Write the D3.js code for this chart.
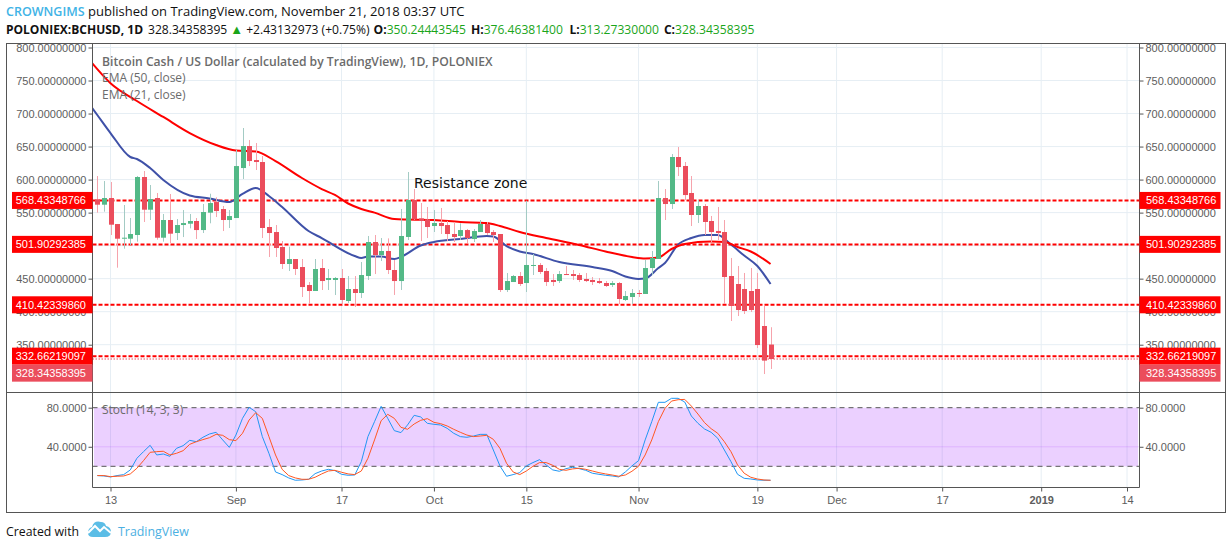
<!DOCTYPE html>
<html><head><meta charset="utf-8">
<script src="https://cdn.jsdelivr.net/npm/d3@7"></script>
<style>html,body{margin:0;padding:0;background:#fff;overflow:hidden}svg{display:block}</style>
</head><body><svg id="c" width="1232" height="549"></svg>
<script>
const startDate = "2018-08-11";
const opens = [570.1,562,572.1,532.7,510.5,510.5,516.1,603.9,554.4,572.1,512,538.8,519.1,531.2,533.2,537.3,523.6,549.9,566,555.4,538.8,
541.8,617.5,650.8,629.6,626.6,528.2,520.6,497.9,472.2,479.7,467.6,440.4,431.3,466.1,448,448,451,416.2,434.3,428.3,454,505.5,485.8,491.9,463.1,446.4,513.1,569.1,541.3,539.8,
529.7,534.3,531.2,517.6,514.6,523.6,510,520.6,532.8,520.6,517.6,432.8,444.9,454,443.4,469.2,470.7,461.6,448,446.4,457,457,455.5,449.5,448,446.4,443.4,440.4,443.4,417.7,422.2,
428.3,426.8,466.1,479.8,572.1,563,634.2,620.6,579.7,546.4,560,537.3,522.2,520.6,454,441.9,434.3,431.3,434.3,378.3,350.24];
const highs = [605.4,597.8,596.3,532.7,561.5,541.8,605.4,613,591.8,579.7,547.9,578.2,540.3,553.9,547.9,541.8,563,578.6,573.1,560,553.9,
644.8,678.1,659.9,655.4,635.7,540.3,531.2,507,498.4,479.7,479.7,444.9,479.7,479.7,464.6,452.5,464.6,454,454,475.2,514.6,516.1,511.5,511,478.2,555.5,611.5,585.7,564.5,558.5,
553.9,557,537.3,535.8,533.8,525.2,525.2,538.8,535.8,523.6,517.6,458.5,455.5,460.1,568,487.3,473.7,466.1,457,461.6,469.2,463.1,458.5,458.5,452.5,451,446.4,446.4,444.9,431.3,434.3,
432.8,478.2,491.9,597.9,585.7,638.7,649.3,626.6,605.4,569.1,563,544.9,558.5,538.8,481.3,469.2,458.6,466.1,458.6,408.6,376.46];
const lows = [549.9,551.4,516.1,466.6,495.4,500.9,506,535.8,538.8,509,506,504,508.5,513,526.2,510,519.1,533.8,543.3,522.1,526.7,
541.8,600.9,620.5,614.5,511.5,482.8,482.8,464.6,461.6,455.5,422.2,411.6,431.3,432.8,432.8,425.2,410.1,413.1,407.1,420.7,448,457,476.7,457,425.3,432.8,508.5,538.8,507,511.5,
520.6,517.6,507,505.5,508.5,504,505.5,520.6,516.1,505.5,429.8,429.8,444.9,438.9,429.8,455.5,457,438.9,438.9,443.4,455.5,448,444.9,444.9,440.4,441.9,437.4,437.4,411.6,416.2,411.6,
422.2,426.8,455.5,479.8,538.8,555.5,605.4,569.1,529.7,534.3,516.1,505.5,508.5,411.6,385.9,393.4,396.5,399.5,345,305.6,313.27];
const closes = [562,572.1,531.7,510.5,512,517.6,603.9,554.4,570.6,512,538.8,518.1,531.2,534.2,537.3,523.6,550.9,564.5,552.4,538.8,544.8,
620.5,650.8,628.1,626.6,526.7,519.1,496.4,472.2,479.7,464.6,437.3,431.3,464.6,446.4,451,451,417.7,434.3,428.3,455.5,505.5,485.8,491.9,463.1,446.4,514.6,569.1,539.8,537.3,528.2,
534.3,529.7,517.6,513.1,523.6,511.5,522.1,532.8,519.1,516.1,432.8,446.4,454,441.9,470.7,470.7,460.1,444.9,444.9,457,455.5,454,448,446.4,444.9,443.4,438.9,443.4,419.2,423.7,428.3,
426.8,466.1,481.3,572.1,563,634.2,619,576.6,546.4,560,535.8,520.6,519.1,452.5,408.6,402.5,401,402.5,349.5,325.9,328.34];

const ema50Dates = ["2018-08-10","2018-08-13","2018-08-17","2018-08-21","2018-08-25","2018-08-29","2018-09-01","2018-09-04","2018-09-07","2018-09-11","2018-09-14","2018-09-16","2018-09-18","2018-09-20","2018-09-22","2018-09-25","2018-09-27","2018-10-01","2018-10-05","2018-10-09","2018-10-11","2018-10-14","2018-10-18","2018-10-23","2018-10-27","2018-10-31","2018-11-02","2018-11-04","2018-11-06","2018-11-08","2018-11-12","2018-11-14","2018-11-16","2018-11-18","2018-11-21"];
const ema50Values = [778.8,746,719,694.8,670.5,652.4,644,642.5,628,602.4,585.7,576.7,563.8,555.5,550,540.3,539.6,538.8,535.8,534.3,529.8,520.6,511.5,501,491.1,482.8,480.5,482,494.9,502.5,506.2,505.5,497.9,491.1,472.2];
const ema21Dates = ["2018-08-10","2018-08-11","2018-08-13","2018-08-16","2018-08-17","2018-08-19","2018-08-21","2018-08-25","2018-08-28","2018-08-31","2018-09-02","2018-09-04","2018-09-06","2018-09-08","2018-09-12","2018-09-14","2018-09-19","2018-09-20","2018-09-21","2018-09-23","2018-09-25","2018-09-26","2018-09-29","2018-10-01","2018-10-05","2018-10-09","2018-10-10","2018-10-12","2018-10-14","2018-10-16","2018-10-20","2018-10-25","2018-10-28","2018-10-30","2018-11-01","2018-11-02","2018-11-04","2018-11-05","2018-11-07","2018-11-09","2018-11-11","2018-11-13","2018-11-15","2018-11-17","2018-11-19","2018-11-21"];
const ema21Values = [711.4,697.8,670.5,634.2,631.2,617.5,599.4,575.9,571.4,566,578.2,587.3,575.1,558.5,522.1,511.5,484.3,481.3,483.5,483.5,479.8,482.8,500.2,505.5,510,514.6,513.8,499.4,491.1,487.3,475.2,467.6,461.6,453.2,449.5,450.2,466.1,473.7,501.7,511.5,516,516,501.7,485,469.1,441.9];

const stochK = [10.5,10.1,9.1,10.5,11.5,16.3,28.2,35,41.5,31.6,32.6,30.2,38.4,41.1,46.6,45.2,49.7,53.1,54.8,47,39.4,
52,69.1,80.4,75.9,50.4,33.3,14.2,11.5,8.1,5.7,6,6.7,12.5,15.2,16.9,15.6,11.8,10.8,11.1,24.8,50.4,65.7,81.4,69.1,56.5,54.5,62.3,72.2,70.5,64,
63,62.3,58.9,53.8,50.4,49.7,51,52.7,52.7,36.7,20.4,9.8,11.5,13.5,20.4,23.8,26.8,21.4,16.3,14.9,17.6,19,17.6,15.9,12.9,11.8,10.8,10.1,9.1,14.2,20.4,
25.8,47,65.7,85.5,85.5,89.6,89.6,85.8,71.5,64,58.2,54.8,48.7,36.7,24.8,11.8,7.7,7,6,5.7,5.7];
const stochD = [10.5,10.5,9.4,9.8,10.1,12.2,18,25.8,34.3,35,35.4,31.6,33.3,36,42.5,45.2,47.3,49.3,52.7,51.7,47.3,
46.3,53.8,67.4,74.9,69.1,50.4,31.6,16.9,10.5,8.1,6.7,6.7,8.8,12.2,15.2,15.9,13.9,12.2,11.5,15.2,28.2,47,66.7,73.2,69.1,59.9,57.9,63.3,67.1,68.8,
65,63.7,61.3,57.9,54.8,52,50.4,51,51.7,47.6,38.4,23.1,14.2,11.5,15.2,20,23.8,23.8,21,16.9,15.9,17.3,18,16.9,15.2,13.5,12.2,11.1,9.8,11.1,14.9,
20,31.6,47,65.7,79.3,86.8,88.2,88.5,81.7,73.5,64.7,58.5,53.8,45.2,35,21.4,12.9,8.8,7,6,5.7];

const priceTicks = [350,400,450,500,550,600,650,700,750,800];
const stochTicks = [40,80];
const stochBounds = [20,80];
const dateTicks = ["2018-08-13","2018-09-01","2018-09-17","2018-10-01","2018-10-15","2018-11-01","2018-11-19","2018-12-01","2018-12-17","2019-01-01","2019-01-14"];
const dateLabels = ["13","Sep","17","Oct","15","Nov","19","Dec","17","2019","14"];
const levelValues = [568.43348766,501.90292385,410.42339860,332.66219097];
const lastPrice = 328.34358395;

const parse = d3.utcParse("%Y-%m-%d");
const L=92.5,R=1139.5,T=43.5,B=392.5,SB=487.5,OL=6.5,OR=1225.5,OB=512.5;
const x = d3.scaleUtc().domain([parse("2018-08-13"),parse("2019-01-14")]).range([110.5,1127]);
const y = d3.scaleLinear().domain([350,800]).range([344.7,47.5]);
const ys = d3.scaleLinear().domain([20,80]).range([466.3,407.7]);
const dates = closes.map((_,i)=>d3.utcDay.offset(parse(startDate),i));

const svg = d3.select("#c");
const defs = svg.append("defs");
defs.append("clipPath").attr("id","m").append("rect").attr("x",L).attr("y",T).attr("width",R-L).attr("height",B-T);
defs.append("clipPath").attr("id","s").append("rect").attr("x",L).attr("y",B).attr("width",R-L).attr("height",SB-B);
const GRID="#E6EEF4",AX="#555",TXT="#5d5d5d",SANS="'Liberation Sans',Arial,sans-serif",HEAD="'Open Sans',sans-serif";
const UP="#53B987",DN="#EB4D5C",UPW="#A3CBC4",DNW="#F6A3AC",GREEN="#1AA51A";

const gridG = svg.append("g");
gridG.selectAll(".v").data(dateTicks).join("line")
 .attr("x1",d=>x(parse(d))).attr("x2",d=>x(parse(d))).attr("y1",T).attr("y2",SB).attr("stroke",GRID);
const mainG = svg.append("g").attr("clip-path","url(#m)");
mainG.selectAll(".h").data(priceTicks).join("line")
 .attr("x1",L).attr("x2",R).attr("y1",d=>y(d)).attr("y2",d=>y(d)).attr("stroke",GRID);

mainG.selectAll(".lv").data(levelValues).join("line")
 .attr("x1",L).attr("x2",R).attr("y1",d=>y(d)).attr("y2",d=>y(d))
 .attr("stroke","#ff0000").attr("stroke-width",2).attr("stroke-dasharray","4 2");
mainG.append("line").attr("x1",L).attr("x2",R).attr("y1",y(lastPrice)).attr("y2",y(lastPrice))
 .attr("stroke","#EB4D5C").attr("stroke-dasharray","1.5 1.5");

const lineP = d3.line().x(d=>x(d[0])).y(d=>y(d[1])).curve(d3.curveMonotoneX);
mainG.append("path").attr("d",lineP(ema21Dates.map((d,i)=>[parse(d),ema21Values[i]]))).attr("fill","none").attr("stroke","#3F51A8").attr("stroke-width",2);
mainG.append("path").attr("d",lineP(ema50Dates.map((d,i)=>[parse(d),ema50Values[i]]))).attr("fill","none").attr("stroke","#FF0000").attr("stroke-width",2);

const idx = d3.range(closes.length);
mainG.selectAll(".w").data(idx).join("line")
 .attr("x1",i=>Math.round(x(dates[i]))+.5).attr("x2",i=>Math.round(x(dates[i]))+.5)
 .attr("y1",i=>y(highs[i])).attr("y2",i=>y(lows[i]))
 .attr("stroke",i=>closes[i]>=opens[i]?UPW:DNW);
mainG.selectAll(".b").data(idx).join("rect")
 .attr("x",i=>Math.round(x(dates[i]))-2).attr("width",5)
 .attr("y",i=>y(Math.max(opens[i],closes[i])))
 .attr("height",i=>Math.max(1,Math.abs(y(opens[i])-y(closes[i]))))
 .attr("fill",i=>closes[i]>=opens[i]?UP:DN);

const stG = svg.append("g").attr("clip-path","url(#s)");
stG.append("rect").attr("x",94).attr("width",1044).attr("y",ys(80)).attr("height",ys(20)-ys(80)).attr("fill","#9915FF").attr("fill-opacity",.2);
stG.append("line").attr("x1",L).attr("x2",R).attr("y1",ys(40)).attr("y2",ys(40)).attr("stroke","#9915FF").attr("stroke-opacity",.15);
stG.selectAll(".sb").data(stochBounds).join("line").attr("x1",L).attr("x2",R).attr("y1",d=>ys(d)).attr("y2",d=>ys(d)).attr("stroke","#555").attr("stroke-dasharray","5 4");
const lineS = d3.line().x((d,i)=>x(dates[i])).y(d=>ys(d));
stG.append("path").attr("d",lineS(stochK)).attr("fill","none").attr("stroke","#2196F3").attr("stroke-width",1);
stG.append("path").attr("d",lineS(stochD)).attr("fill","none").attr("stroke","#FF5722").attr("stroke-width",1);

const fr = svg.append("g").attr("stroke",AX).attr("fill","none");
fr.append("rect").attr("x",OL).attr("y",T).attr("width",OR-OL).attr("height",OB-T);
fr.append("line").attr("x1",L).attr("x2",L).attr("y1",T).attr("y2",SB);
fr.append("line").attr("x1",R).attr("x2",R).attr("y1",T).attr("y2",SB);
fr.append("line").attr("x1",OL).attr("x2",OR).attr("y1",B).attr("y2",B);
fr.append("line").attr("x1",L).attr("x2",R).attr("y1",SB).attr("y2",SB);

function style(g){g.select(".domain").remove();g.selectAll("line").attr("stroke",AX);g.selectAll("text").attr("fill",TXT).attr("font-family",SANS).attr("font-size","11px");}
const fmt8=d3.format(".8f"),fmt4=d3.format(".4f");
svg.append("g").attr("transform",`translate(${L},0)`).call(d3.axisLeft(y).tickValues(priceTicks).tickFormat(fmt8).tickSize(4).tickPadding(2)).call(style);
svg.append("g").attr("transform",`translate(${R},0)`).call(d3.axisRight(y).tickValues(priceTicks).tickFormat(fmt8).tickSize(4).tickPadding(2)).call(style);
svg.append("g").attr("transform",`translate(${L},0)`).call(d3.axisLeft(ys).tickValues(stochTicks).tickFormat(fmt4).tickSize(4).tickPadding(2)).call(style);
svg.append("g").attr("transform",`translate(${R},0)`).call(d3.axisRight(ys).tickValues(stochTicks).tickFormat(fmt4).tickSize(4).tickPadding(2)).call(style);
const xa = svg.append("g").attr("transform",`translate(0,${SB})`)
 .call(d3.axisBottom(x).tickValues(dateTicks.map(parse)).tickFormat((d,i)=>dateLabels[i]).tickSize(4).tickPadding(5)).call(style);
xa.selectAll("text").attr("font-weight",(d,i)=>dateLabels[i]=="2019"?"bold":null);

function badge(v,yc,col){
  [[12,L-12],[R,81]].forEach(([bx,w])=>{
    svg.append("rect").attr("x",bx).attr("y",yc-8.5).attr("width",w).attr("height",17).attr("fill",col);
    svg.append("text").attr("x",bx==12?86:1146).attr("y",yc+4).attr("text-anchor",bx==12?"end":"start")
      .attr("fill","#fff").attr("font-family",SANS).attr("font-size","11px").text(d3.format(".8f")(v));
  });
}
levelValues.forEach(v=>badge(v,y(v),"#FF0000"));
badge(lastPrice,y(levelValues[3])+17,"#EB4D5C");

const legend=(t,xp,yp,w,fs)=>svg.append("text").attr("x",xp).attr("y",yp).attr("fill","#6b6b6b").attr("font-family",HEAD).attr("font-size",fs||"12px").attr("font-weight",w||400).text(t);
legend("Bitcoin Cash / US Dollar (calculated by TradingView), 1D, POLONIEX",102,65.5,600,"12.15px");
legend("EMA (50, close)",102,82);
legend("EMA (21, close)",102,99);
legend("Stoch (14, 3, 3)",102,414);
svg.append("text").attr("x",414).attr("y",188).attr("font-family","'DejaVu Sans',sans-serif").attr("font-size","14px").attr("fill","#111").text("Resistance zone");

const h1=svg.append("text").attr("x",6).attr("y",16).attr("font-family",HEAD).attr("font-size","13px").attr("fill","#111");
h1.append("tspan").attr("fill","#41B3E6").attr("font-weight",600).attr("font-size","12.5px").text("CROWNGIMS");
h1.append("tspan").text(" published on TradingView.com, November 21, 2018 03:37 UTC");
const h2=svg.append("text").attr("x",6).attr("y",34).attr("font-family",HEAD).attr("font-size","12.1px").attr("fill","#111");
h2.append("tspan").attr("font-weight",700).attr("font-size","12px").text("POLONIEX:BCHUSD, 1D");
h2.append("tspan").attr("dx",5).text("328.34358395");
h2.append("tspan").attr("dx",3).attr("fill",GREEN).attr("font-size","13px").text("▲");
h2.append("tspan").attr("dx",3).text("+2.43132973 (+0.75%)");
[["O:","350.24443545",4],["H:","376.46381400",5],["L:","313.27330000",6.5],["C:","328.34358395",5]].forEach(([a,b,g])=>{
  h2.append("tspan").attr("dx",g).attr("font-weight",700).text(a);
  h2.append("tspan").attr("fill",GREEN).text(b);
});

svg.append("text").attr("x",6).attr("y",536).attr("font-family",HEAD).attr("font-size","12.3px").attr("fill","#111").text("Created with");
svg.append("path").attr("d","M88 533 Q88 528 92 527 Q94 520 101 522 Q105 522 106 526 Q111 527 111 532 Q111 537 105 537 L93 537 Q88 537 88 533 Z").attr("fill","#5BBDE6");
svg.append("path").attr("d","M88 533 L95 526 L100 531 L104 527 L111 533").attr("fill","none").attr("stroke","#fff").attr("stroke-width",2);
svg.append("text").attr("x",118).attr("y",536).attr("font-family",HEAD).attr("font-size","12.4px").attr("fill","#4BB0E2").text("TradingView");
</script></body></html>
